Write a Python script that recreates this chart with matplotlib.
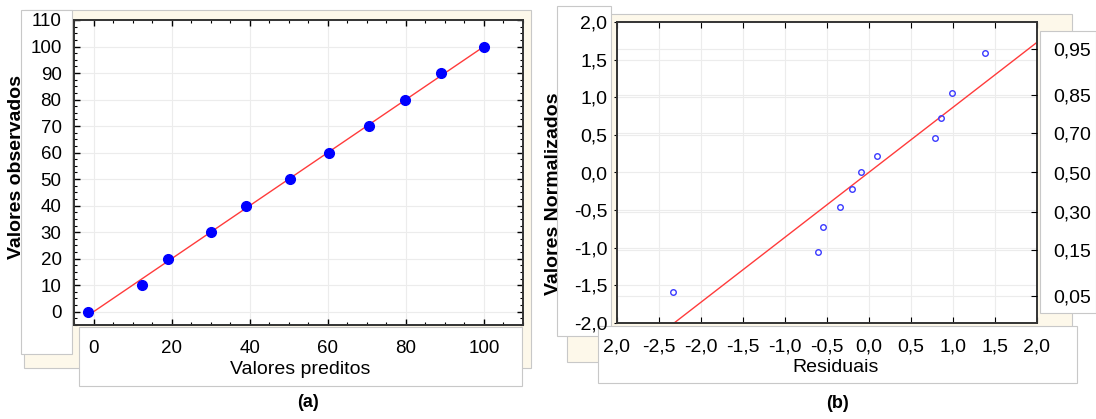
import numpy as np
import matplotlib.pyplot as plt
from matplotlib.patches import Rectangle
from matplotlib.ticker import AutoMinorLocator

plt.rcParams['font.family'] = ['Liberation Sans', 'DejaVu Sans']

# (a) predicted vs observed
preditos = [-1.5, 12.3, 19.2, 30.0, 39.1, 50.4, 60.3, 70.6, 79.8, 89.0, 100.0]
observados = [0, 10, 20, 30, 40, 50, 60, 70, 80, 90, 100]
reta_a_x = [0, 100]
reta_a_y = [0, 100]

# (b) normal probability plot of residuals
residuais = [-2.33, -0.61, -0.55, -0.35, -0.20, -0.10, 0.10, 0.78, 0.86, 0.99, 1.38]
normalizados = [-1.59, -1.06, -0.73, -0.46, -0.22, 0.0, 0.22, 0.46, 0.73, 1.06, 1.59]
reta_b_x = [-2.32, 2.0]
reta_b_y = [-2.0, 1.73]

xticks_b = [-3.0, -2.5, -2.0, -1.5, -1.0, -0.5, 0.0, 0.5, 1.0, 1.5, 2.0]
xlabels_b = ['2,0', '-2,5', '-2,0', '-1,5', '-1,0', '-0,5', '0,0', '0,5', '1,0', '1,5', '2,0']
yticks_b = [-2.0, -1.5, -1.0, -0.5, 0.0, 0.5, 1.0, 1.5, 2.0]
ylabels_b = ['-2,0', '-1,5', '-1,0', '-0,5', '0,0', '0,5', '1,0', '1,5', '2,0']
prob_z = [-1.645, -1.036, -0.524, 0.0, 0.524, 1.036, 1.645]
prob_labels = ['0,05', '0,15', '0,30', '0,50', '0,70', '0,85', '0,95']

W, H = 1096, 419
fig = plt.figure(figsize=(W / 100, H / 100), dpi=100)
fig.patch.set_facecolor('white')

cream = '#fdf8ea'
edge = '#c8c8c8'


def box(x0, y0, x1, y1, color):
    # pixel box (y from top) -> figure rectangle behind the axes
    r = Rectangle((x0 / W, 1 - y1 / H), (x1 - x0) / W, (y1 - y0) / H,
                  transform=fig.transFigure, facecolor=color,
                  edgecolor=edge, linewidth=0.8, zorder=-1)
    fig.patches.append(r)


def px_axes(x0, y0, x1, y1):
    return fig.add_axes([x0 / W, 1 - y1 / H, (x1 - x0) / W, (y1 - y0) / H])


# panel backgrounds (a)
box(24, 10, 531, 368, cream)
box(21, 10, 72, 354, 'white')
box(79, 327, 522, 386, 'white')
# panel backgrounds (b)
box(567, 14, 1072, 362, cream)
box(557, 6, 611, 336, 'white')
box(1040, 31, 1096, 313, 'white')
box(598, 326, 1077, 383, 'white')

# ---- (a)
ax1 = px_axes(74, 20, 523, 325)
ax1.plot(reta_a_x, reta_a_y, color='#ff3b3b', lw=1.0, zorder=2)
ax1.plot(preditos, observados, 'o', color='#0000ff', markersize=7, zorder=3)
ax1.set_xlim(-5, 110)
ax1.set_ylim(-5, 110)
ax1.set_xticks(np.arange(0, 101, 20))
ax1.set_yticks(np.arange(0, 111, 10))
ax1.xaxis.set_minor_locator(AutoMinorLocator(4))
ax1.yaxis.set_minor_locator(AutoMinorLocator(4))
ax1.grid(True, color='#ececec', lw=0.8)
ax1.tick_params(which='both', direction='in', top=True, right=True, labelsize=13.5)
ax1.tick_params(which='major', length=4, width=1)
ax1.tick_params(which='minor', length=2, width=0.8)
ax1.tick_params(axis='x', pad=11)
ax1.tick_params(axis='y', pad=9)
for s in ax1.spines.values():
    s.set_linewidth(1.4)
    s.set_color('#333333')

fig.text(300 / W, 1 - 369 / H, 'Valores preditos', ha='center', va='center', fontsize=14)
fig.text(17 / W, 1 - 167 / H, 'Valores observados', ha='center', va='center',
         rotation=90, fontsize=14, fontweight='bold')
fig.text(308 / W, 1 - 402 / H, '(a)', ha='center', va='center', fontsize=13,
         fontweight='bold')

# ---- (b)
ax2 = px_axes(617, 22, 1037, 323)
ax2.plot(reta_b_x, reta_b_y, color='#ff3b3b', lw=1.0, zorder=2)
ax2.plot(residuais, normalizados, 'o', mfc='none', mec='#3a3aff', mew=1.0,
         markersize=4, zorder=3)
ax2.set_xlim(-3, 2)
ax2.set_ylim(-2, 2)
ax2.set_xticks(xticks_b)
ax2.set_xticklabels(xlabels_b)
ax2.set_yticks(yticks_b)
ax2.set_yticklabels(ylabels_b)
ax2.set_yticks(prob_z, minor=True)
ax2.grid(True, which='major', color='#ececec', lw=0.8)
ax2.grid(True, which='minor', axis='y', color='#ececec', lw=0.8)
ax2.tick_params(which='minor', length=0)
ax2.tick_params(axis='x', direction='in', top=True, length=4, pad=11, labelsize=14)
ax2.tick_params(axis='y', direction='out', length=2, pad=5, labelsize=14)
for s in ax2.spines.values():
    s.set_linewidth(1.4)
    s.set_color('#333333')

ax2r = ax2.twinx()
ax2r.set_ylim(-2, 2)
ax2r.set_yticks(prob_z)
ax2r.set_yticklabels(prob_labels)
ax2r.tick_params(axis='y', direction='in', length=4, pad=12, labelsize=14)
for s in ax2r.spines.values():
    s.set_visible(False)

fig.text(836 / W, 1 - 367 / H, 'Residuais', ha='center', va='center', fontsize=14)
fig.text(553 / W, 1 - 194 / H, 'Valores Normalizados', ha='center', va='center',
         rotation=90, fontsize=14, fontweight='bold')
fig.text(837 / W, 1 - 403 / H, '(b)', ha='center', va='center', fontsize=13,
         fontweight='bold')

fig.savefig('out.png', dpi=100)
